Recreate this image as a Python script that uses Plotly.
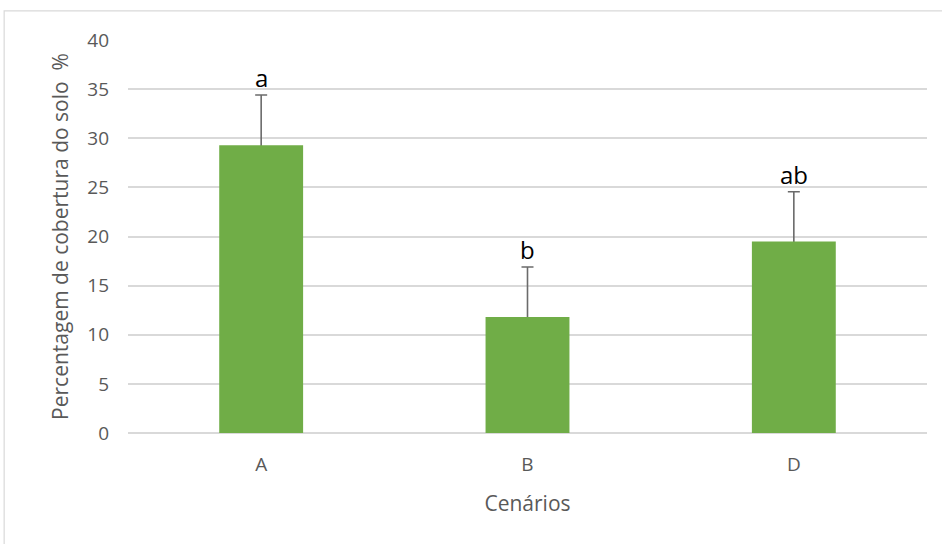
import plotly.graph_objects as go

# Soil cover per scenario (mean and error), with significance letters
cenarios = ["A", "B", "D"]
cobertura = [29.3, 11.8, 19.5]
erro = [5.1, 5.1, 5.05]
letras = ["a", "b", "ab"]
y_ticks = [0, 5, 10, 15, 20, 25, 30, 35, 40]

GREEN = "#70ad47"
GREY_TXT = "#595959"
GRID = "#d9d9d9"
FONT = "Open Sans, Liberation Sans, sans-serif"

fig = go.Figure()
# transparent bars carrying the error bars; the green bars drawn after
# them hide the lower half, leaving only the upward whisker
fig.add_trace(go.Bar(
    x=cenarios, y=cobertura,
    marker=dict(color="rgba(0,0,0,0)", line=dict(width=0)),
    error_y=dict(type="data", array=erro, visible=True,
                 color="#6b6b6b", thickness=1.6, width=6),
    showlegend=False, hoverinfo="skip",
))
fig.add_trace(go.Bar(
    x=cenarios, y=cobertura,
    marker=dict(color=GREEN, line=dict(width=0)),
    showlegend=False,
))

for c, m, e, t in zip(cenarios, cobertura, erro, letras):
    fig.add_annotation(x=c, y=m + e, text=t, showarrow=False,
                       yanchor="bottom", yshift=-1,
                       font=dict(family=FONT, size=24, color="#000000"))

# outer chart frame
fig.add_shape(type="rect", xref="paper", yref="paper",
              x0=-0.155, y0=-0.5, x1=1.2, y1=1.074,
              line=dict(color=GRID, width=1.2), fillcolor="rgba(0,0,0,0)",
              layer="below")

fig.update_layout(
    width=942, height=544,
    margin=dict(l=128, r=15, t=40, b=111),
    paper_bgcolor="white", plot_bgcolor="white",
    barmode="overlay",
    bargap=0.685,
    font=dict(family=FONT, color=GREY_TXT, size=16),
    xaxis=dict(
        title=dict(text="Cenários", font=dict(size=21, color=GREY_TXT), standoff=20),
        showgrid=False, showline=False, zeroline=False,
        ticks="", ticklabelstandoff=18,
        tickfont=dict(size=19, color=GREY_TXT),
    ),
    yaxis=dict(
        title=dict(text="Percentagem de cobertura do solo  %",
                   font=dict(size=21, color=GREY_TXT), standoff=12),
        range=[0, 40], tickvals=y_ticks,
        showgrid=True, gridcolor=GRID, gridwidth=1.5,
        zeroline=True, zerolinecolor=GRID, zerolinewidth=2,
        showline=False, ticks="", ticklen=0, ticklabelstandoff=18,
        tickfont=dict(size=19, color=GREY_TXT),
    ),
)

fig.write_html("out.html")
